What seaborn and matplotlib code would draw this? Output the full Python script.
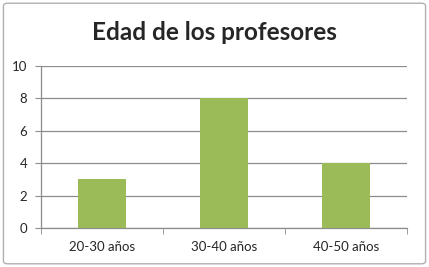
import numpy as np
import pandas as pd
import matplotlib
matplotlib.use("Agg")
import matplotlib.pyplot as plt
from matplotlib.patches import FancyBboxPatch
import seaborn as sns

categorias = ["20-30 años", "30-40 años", "40-50 años"]
profesores = [3, 8, 4]
ticks_y = [0, 2, 4, 6, 8, 10]

df = pd.DataFrame({"Edad": categorias, "Profesores": profesores})

sns.set_style("white")
plt.rcParams['font.family'] = ['Lato', 'DejaVu Sans']

fig = plt.figure(figsize=(4.29, 2.67), dpi=100)
ax = fig.add_axes([0.0956, 0.146, 0.853, 0.607])

sns.barplot(data=df, x="Edad", y="Profesores", color="#9BBB59", width=0.4,
            saturation=1, linewidth=0, ax=ax, zorder=3)

ax.set_ylim(0, 10)
ax.set_yticks(ticks_y)
ax.set_xlim(-0.5, 2.5)
ax.yaxis.grid(True, color="#8c8c8c", linewidth=0.9, zorder=0)
ax.set_axisbelow(True)
ax.set_xlabel("")
ax.set_ylabel("")

for s in ["top", "right"]:
    ax.spines[s].set_visible(False)
for s in ["left", "bottom"]:
    ax.spines[s].set_color("#8c8c8c")
    ax.spines[s].set_linewidth(0.9)

ax.tick_params(axis="y", length=4, color="#8c8c8c", labelsize=9.5, pad=6, left=True)
ax.set_xticks(np.arange(len(categorias)))
ax.set_xticklabels(categorias, fontsize=9.5)
ax.tick_params(axis="x", length=0, pad=9)
# marcas entre categorías
ax.set_xticks([-0.5, 0.5, 1.5, 2.5], minor=True)
ax.tick_params(axis="x", which="minor", length=4, color="#8c8c8c", bottom=True)

fig.text(0.5, 0.88, "Edad de los profesores", ha="center", va="center",
         fontsize=17.5, fontweight="bold")

borde = FancyBboxPatch((0.008, 0.012), 0.984, 0.976, boxstyle="round,pad=0,rounding_size=0.01",
                       transform=fig.transFigure, facecolor="none", edgecolor="#b0b0b0",
                       linewidth=1)
fig.patches.append(borde)

fig.savefig("out.png", dpi=100)
